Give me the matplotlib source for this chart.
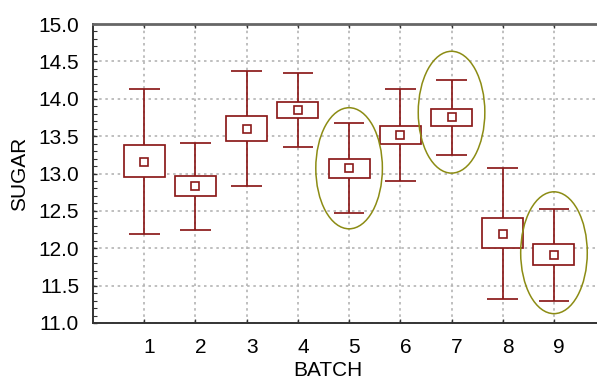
import matplotlib
matplotlib.use("Agg")
import matplotlib.pyplot as plt
import matplotlib.transforms as mtransforms
from matplotlib.patches import Ellipse
from matplotlib.ticker import MultipleLocator

plt.rcParams['font.family'] = ['Liberation Sans', 'DejaVu Sans']

# Sugar content by batch: whisker ends, box ends and centre point
batches = [1, 2, 3, 4, 5, 6, 7, 8, 9]
whisker_low = [12.19, 12.25, 12.83, 13.35, 12.47, 12.90, 13.25, 11.32, 11.30]
box_low = [12.95, 12.70, 13.43, 13.74, 12.94, 13.39, 13.63, 12.00, 11.78]
centre = [13.16, 12.83, 13.60, 13.85, 13.07, 13.52, 13.76, 12.19, 11.91]
box_high = [13.38, 12.97, 13.77, 13.96, 13.20, 13.64, 13.86, 12.40, 12.06]
whisker_high = [14.13, 13.41, 14.37, 14.34, 13.68, 14.13, 14.25, 13.08, 12.53]

# Highlighted batches (ellipse centre and vertical extent)
marked_batches = [5, 7, 9]
marked_centres = [13.07, 13.82, 11.94]
marked_heights = [1.62, 1.63, 1.63]

y_ticks = [11.0, 11.5, 12.0, 12.5, 13.0, 13.5, 14.0, 14.5, 15.0]

box_color = '#8b1a1a'
ring_color = '#8c8c14'
grid_color = '#b4b4b4'

fig = plt.figure(figsize=(5.97, 3.79), dpi=100)
ax = fig.add_axes([93 / 597, 1 - 323 / 379, 504 / 597, 299 / 379])

box_w = 0.8
cap_w = 0.6
lw = 1.25

ax.bar(batches, [h - l for h, l in zip(box_high, box_low)], bottom=box_low,
       width=box_w, facecolor='white', edgecolor=box_color, linewidth=lw, zorder=3)
ax.vlines(batches, whisker_low, box_low, color=box_color, linewidth=lw, zorder=3)
ax.vlines(batches, box_high, whisker_high, color=box_color, linewidth=lw, zorder=3)
ax.hlines(whisker_low, [b - cap_w / 2 for b in batches], [b + cap_w / 2 for b in batches],
          color=box_color, linewidth=lw, zorder=3)
ax.hlines(whisker_high, [b - cap_w / 2 for b in batches], [b + cap_w / 2 for b in batches],
          color=box_color, linewidth=lw, zorder=3)
ax.plot(batches, centre, linestyle='none', marker='s', markersize=5.5,
        markerfacecolor='white', markeredgecolor=box_color, markeredgewidth=1.2, zorder=4)

for b, c, h in zip(marked_batches, marked_centres, marked_heights):
    ax.add_patch(Ellipse((b, c), width=1.3, height=h, fill=False,
                         edgecolor=ring_color, linewidth=1.1, zorder=5))

ax.set_xlim(0, 9.84)
ax.set_ylim(11.0, 15.0)
ax.set_xticks(batches)
ax.set_yticks(y_ticks)
ax.set_yticklabels([f"{v:.1f}" for v in y_ticks])
ax.yaxis.set_minor_locator(MultipleLocator(0.1))

ax.grid(True, which='major', color=grid_color, linestyle=(0, (1.5, 2.2)), linewidth=1.2, zorder=0)
ax.set_axisbelow(True)

ax.tick_params(axis='both', which='major', direction='in', length=3, width=1,
               labelsize=15, colors='#333333', labelcolor='black', top=True)
ax.tick_params(axis='y', which='major', pad=10)
ax.tick_params(axis='x', which='major', pad=11)
ax.tick_params(axis='y', which='minor', direction='in', length=3, width=0.8, colors='#333333')

offset = mtransforms.ScaledTranslation(5 / 100, 0, fig.dpi_scale_trans)
for lab in ax.get_xticklabels():
    lab.set_transform(lab.get_transform() + offset)

for side in ['left', 'bottom']:
    ax.spines[side].set_color('#333333')
    ax.spines[side].set_linewidth(1.4)
ax.spines['top'].set_color('#666666')
ax.spines['top'].set_linewidth(2.0)
ax.spines['right'].set_visible(False)

ax.set_xlabel('BATCH', fontsize=15)
ax.set_ylabel('SUGAR', fontsize=15)
ax.xaxis.set_label_coords((328 - 93) / 504, -47 / 299)
ax.xaxis.label.set_verticalalignment('center')
ax.yaxis.set_label_coords((20 - 93) / 504, 0.5)
ax.yaxis.label.set_verticalalignment('center')

fig.savefig('out.png', dpi=100)
